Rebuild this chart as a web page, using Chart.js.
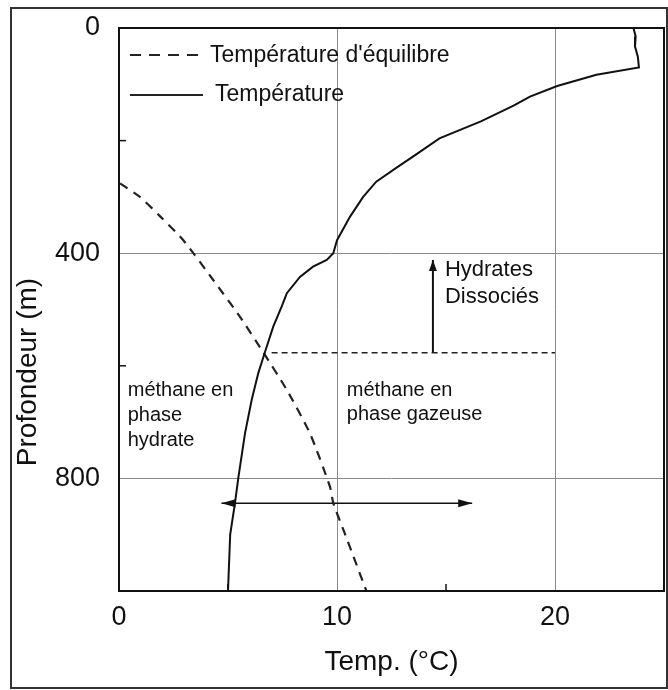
<!DOCTYPE html>
<html>
<head>
<meta charset="utf-8">
<script src="https://cdn.jsdelivr.net/npm/chart.js@4.4.1/dist/chart.umd.min.js"></script>
<style>
  html, body { margin: 0; padding: 0; background: #fff; }
</style>
</head>
<body>
<canvas id="profil" width="668" height="690"></canvas>
<script>
// Temperature profile (solid line)
const tempValues = [23.6, 23.7, 23.67, 23.8, 23.85, 21.9, 20.1, 18.85, 18.1, 16.6, 14.7, 13.5, 12.7, 11.8, 11.2, 10.6, 10.0, 9.83, 9.53, 8.9, 8.3, 7.7, 7.46, 7.08, 6.7, 6.39, 6.09, 5.78, 5.47, 5.32, 5.1, 5.0];
const tempDepth = [0, 15, 33, 51, 70, 83, 103, 122, 138, 166, 196, 228, 249, 273, 300, 335, 377, 400, 412, 424, 442, 471, 495, 530, 575, 613, 660, 720, 800, 844, 900, 1000];

// Equilibrium temperature (dashed line)
const eqValues = [0.05, 0.96, 1.9, 2.95, 4.33, 5.55, 6.6, 7.7, 8.76, 9.68, 9.83, 10.3, 11.35];
const eqDepth = [276, 300, 335, 377, 448, 513, 575, 643, 720, 815, 844, 892, 1000];

// Helper lines / arrows
const dissocTemp = [7.0, 20.0];
const dissocDepth = [577, 577];
const upArrowTemp = [14.4, 14.4];
const upArrowDepth = [577, 412];
const spanTemp = [4.7, 16.2];
const spanDepth = [844, 844];

// Axis ticks
const xLabelTicks = [0, 10, 20];
const yLabelTicks = [0, 400, 800];
const xGridTicks = [10, 20];
const yGridTicks = [400, 800];
const xMinorTicks = [5, 15];
const yMinorTicks = [200, 600];

const FONT = "'Liberation Sans', Arial, sans-serif";
const INK = "#111";

function zip(xs, ys) {
  return xs.map((x, i) => ({ x: x, y: ys[i] }));
}

function arrowHead(ctx, tip, from, len, half) {
  const ang = Math.atan2(tip.y - from.y, tip.x - from.x);
  ctx.beginPath();
  ctx.moveTo(tip.x, tip.y);
  ctx.lineTo(tip.x - len * Math.cos(ang) + half * Math.sin(ang), tip.y - len * Math.sin(ang) - half * Math.cos(ang));
  ctx.lineTo(tip.x - len * Math.cos(ang) - half * Math.sin(ang), tip.y - len * Math.sin(ang) + half * Math.cos(ang));
  ctx.closePath();
  ctx.fill();
}

const decor = {
  id: "decor",
  beforeDraw(chart) {
    const ctx = chart.ctx;
    ctx.save();
    ctx.fillStyle = "#fff";
    ctx.fillRect(0, 0, chart.width, chart.height);
    // outer frame
    ctx.strokeStyle = "#333";
    ctx.lineWidth = 2;
    ctx.strokeRect(11, 8, 656, 680);
    ctx.restore();
  },
  afterDatasetsDraw(chart) {
    const ctx = chart.ctx;
    const a = chart.chartArea;
    const xs = chart.scales.x;
    const ys = chart.scales.y;
    ctx.save();

    // plot frame
    ctx.strokeStyle = "#111";
    ctx.lineWidth = 2;
    ctx.setLineDash([]);
    ctx.strokeRect(a.left, a.top, a.right - a.left, a.bottom - a.top);

    // inward minor ticks
    ctx.lineWidth = 1.5;
    xMinorTicks.forEach((v) => {
      const px = xs.getPixelForValue(v);
      ctx.beginPath();
      ctx.moveTo(px, a.bottom);
      ctx.lineTo(px, a.bottom - 7);
      ctx.stroke();
    });
    yMinorTicks.forEach((v) => {
      const py = ys.getPixelForValue(v);
      ctx.beginPath();
      ctx.moveTo(a.left, py);
      ctx.lineTo(a.left + 7, py);
      ctx.stroke();
    });

    // arrowheads
    ctx.fillStyle = "#111";
    const up = chart.getDatasetMeta(3).data;
    arrowHead(ctx, up[1], up[0], 11, 4);
    const span = chart.getDatasetMeta(4).data;
    arrowHead(ctx, span[0], span[1], 14, 4);
    arrowHead(ctx, span[1], span[0], 14, 4);

    // legend
    ctx.strokeStyle = "#222";
    ctx.lineWidth = 2;
    ctx.setLineDash([11, 8]);
    ctx.beginPath();
    ctx.moveTo(a.left + 11, a.top + 27);
    ctx.lineTo(a.left + 84, a.top + 27);
    ctx.stroke();
    ctx.setLineDash([]);
    ctx.beginPath();
    ctx.moveTo(a.left + 11, a.top + 67);
    ctx.lineTo(a.left + 84, a.top + 67);
    ctx.stroke();
    ctx.fillStyle = INK;
    ctx.font = "23px " + FONT;
    ctx.textBaseline = "middle";
    ctx.textAlign = "left";
    ctx.fillText("Température d'équilibre", a.left + 91, a.top + 28);
    ctx.fillText("Température", a.left + 96, a.top + 67);

    // annotations
    ctx.font = "20px " + FONT;
    let px = xs.getPixelForValue(0.4);
    let py = ys.getPixelForValue(643);
    ["méthane en", "phase", "hydrate"].forEach((t, i) => ctx.fillText(t, px, py + i * 25));
    px = xs.getPixelForValue(10.45);
    ["méthane en", "phase gazeuse"].forEach((t, i) => ctx.fillText(t, px, py + i * 24));
    ctx.font = "22px " + FONT;
    px = xs.getPixelForValue(14.95);
    py = ys.getPixelForValue(430);
    ["Hydrates", "Dissociés"].forEach((t, i) => ctx.fillText(t, px, py + i * 27));

    // y axis title
    ctx.translate(28, 372);
    ctx.rotate(-Math.PI / 2);
    ctx.textAlign = "center";
    ctx.font = "28px " + FONT;
    ctx.fillText("Profondeur (m)", 0, 0);
    ctx.restore();
  },
};

new Chart(document.getElementById("profil"), {
  type: "scatter",
  data: {
    datasets: [
      {
        label: "Température",
        data: zip(tempValues, tempDepth),
        showLine: true,
        borderColor: "#111",
        borderWidth: 2,
        pointRadius: 0,
        tension: 0,
      },
      {
        label: "Température d'équilibre",
        data: zip(eqValues, eqDepth),
        showLine: true,
        borderColor: "#222",
        borderWidth: 2.2,
        borderDash: [9, 7],
        pointRadius: 0,
        tension: 0.2,
      },
      {
        label: "dissoc",
        data: zip(dissocTemp, dissocDepth),
        showLine: true,
        borderColor: "#222",
        borderWidth: 1.5,
        borderDash: [6, 4],
        pointRadius: 0,
      },
      {
        label: "up",
        data: zip(upArrowTemp, upArrowDepth),
        showLine: true,
        borderColor: "#111",
        borderWidth: 2,
        pointRadius: 0,
      },
      {
        label: "span",
        data: zip(spanTemp, spanDepth),
        showLine: true,
        borderColor: "#111",
        borderWidth: 1.5,
        pointRadius: 0,
      },
    ],
  },
  options: {
    responsive: false,
    animation: false,
    devicePixelRatio: 1,
    layout: { padding: { top: 28, right: 4, left: 0, bottom: 0 } },
    plugins: {
      legend: { display: false },
      tooltip: { enabled: false },
    },
    scales: {
      x: {
        type: "linear",
        position: "bottom",
        min: 0,
        max: 25,
        border: { display: false },
        grid: {
          drawTicks: false,
          lineWidth: 1,
          color: (c) => (c.tick && xGridTicks.includes(c.tick.value) ? "#8a8a8a" : "rgba(0,0,0,0)"),
        },
        ticks: {
          stepSize: 5,
          autoSkip: false,
          maxRotation: 0,
          padding: 10,
          color: INK,
          font: { family: FONT, size: 27 },
          callback: (v) => (xLabelTicks.includes(v) ? String(v) : ""),
        },
        title: {
          display: true,
          text: "Temp. (°C)",
          color: INK,
          font: { family: FONT, size: 28 },
          padding: { top: 0, bottom: 11 },
        },
        afterFit: (s) => {
          s.height = 99;
          s.paddingLeft = 0;
          s.paddingRight = 0;
        },
      },
      y: {
        type: "linear",
        reverse: true,
        min: 0,
        max: 1000,
        border: { display: false },
        grid: {
          drawTicks: false,
          lineWidth: 1,
          color: (c) => (c.tick && yGridTicks.includes(c.tick.value) ? "#8a8a8a" : "rgba(0,0,0,0)"),
        },
        ticks: {
          stepSize: 200,
          autoSkip: false,
          padding: 19,
          color: INK,
          font: { family: FONT, size: 27 },
          callback: (v) => (yLabelTicks.includes(v) ? String(v) : ""),
        },
        afterFit: (s) => {
          s.width = 119;
          s.paddingTop = 0;
          s.paddingBottom = 0;
        },
      },
    },
  },
  plugins: [decor],
});
</script>
</body>
</html>
